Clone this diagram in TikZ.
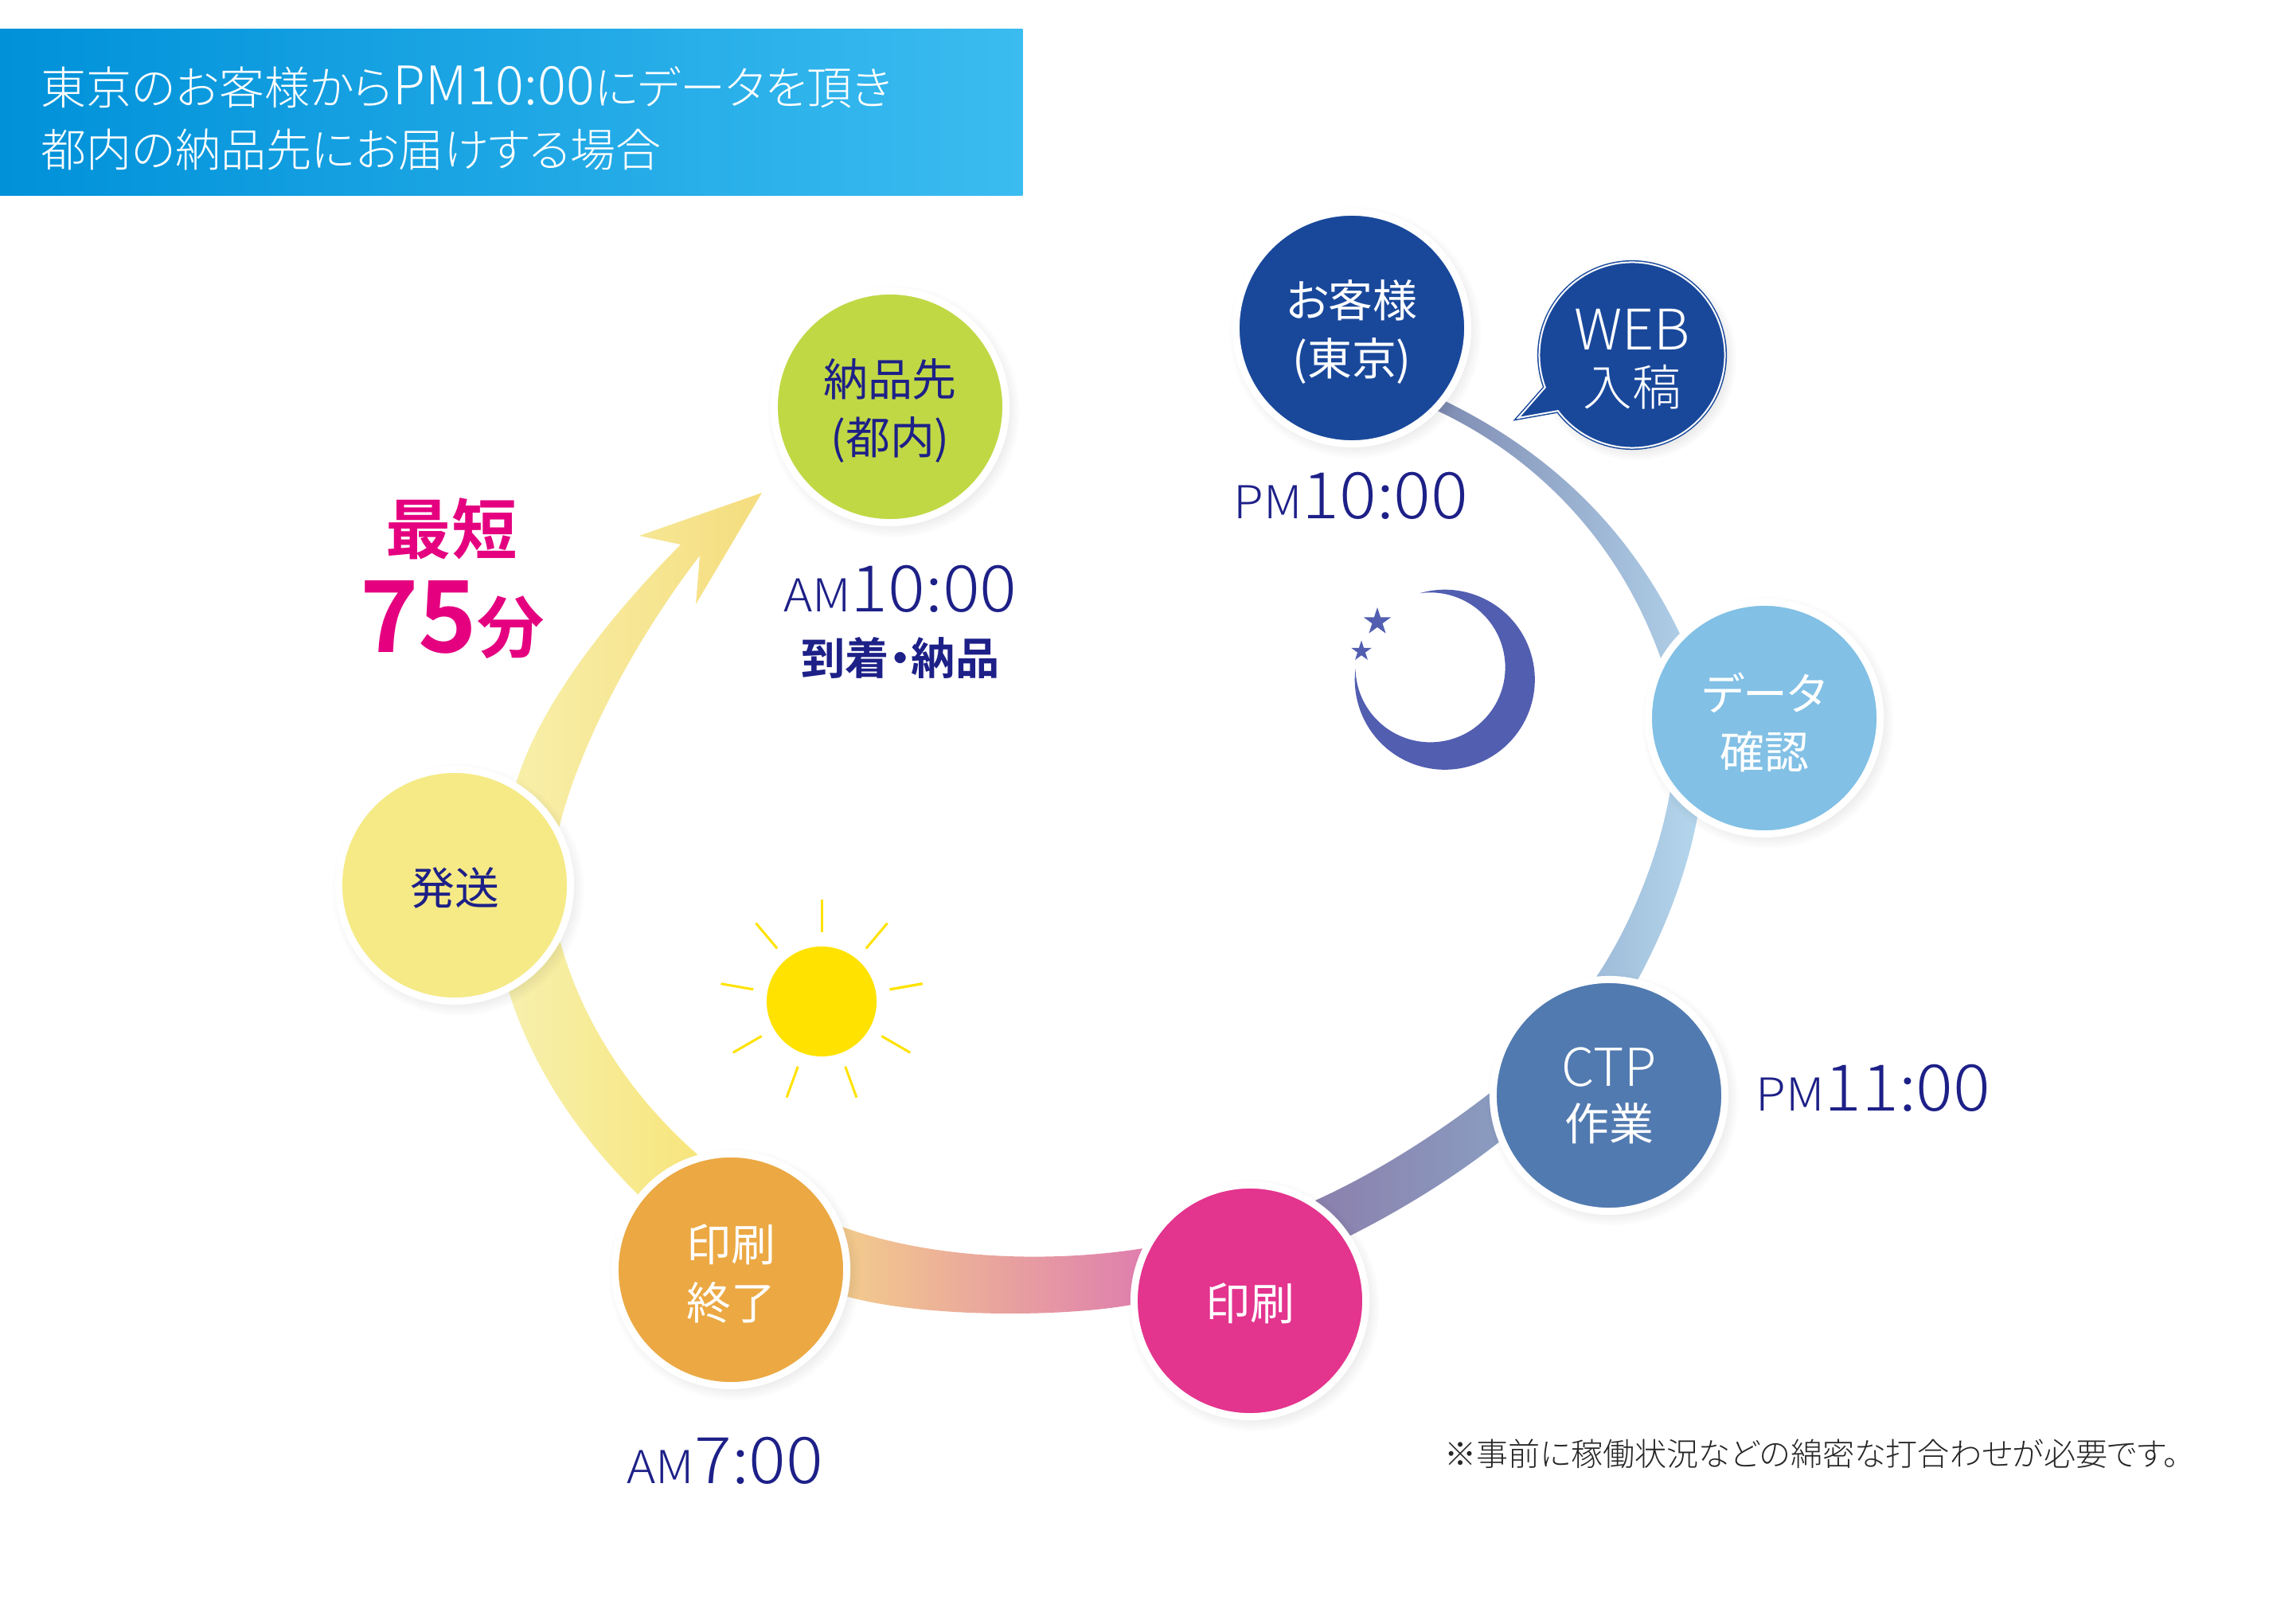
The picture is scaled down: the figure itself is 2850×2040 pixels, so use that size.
\documentclass[tikz,border=0pt]{standalone}
\usepackage{fontspec}
\setmainfont{Noto Sans CJK JP}[RawFeature={+palt},BoldFont={Noto Sans CJK JP Bold}]
\newfontfamily\jplight{Noto Sans CJK JP Light}[RawFeature={+palt}]
\newfontfamily\timefont{Noto Sans CJK JP Light}[FakeStretch=1.08]
\usetikzlibrary{positioning,calc,backgrounds,shadows,shapes.geometric}
\definecolor{navytext}{HTML}{1D2087}
\definecolor{custblue}{HTML}{19489B}
\definecolor{datablue}{HTML}{82C0E5}
\definecolor{ctpblue}{HTML}{517AB0}
\definecolor{printpink}{HTML}{E3348E}
\definecolor{doneorange}{HTML}{EBA843}
\definecolor{shipyellow}{HTML}{F5EA85}
\definecolor{destgreen}{HTML}{C1D845}
\definecolor{hotpink}{HTML}{E4007F}
\definecolor{moonblue}{HTML}{525EB0}
\definecolor{sunyellow}{HTML}{FFE200}
\definecolor{titlea}{HTML}{0091D9}
\definecolor{titleb}{HTML}{0AA0E6}
\definecolor{titlec}{HTML}{3BBCF0}
\definecolor{linka}{HTML}{7F8CB3}
\definecolor{linkb}{HTML}{AECDE6}
\definecolor{linkc}{HTML}{9FBCD9}
\definecolor{linkd}{HTML}{B4D6EC}
\definecolor{linke}{HTML}{8B80AD}
\definecolor{linkf}{HTML}{8A9CC0}
\definecolor{linkg}{HTML}{F3CB8C}
\definecolor{linkh}{HTML}{EBA0A3}
\definecolor{linki}{HTML}{DF7FAE}
\definecolor{linkj}{HTML}{F7F0AD}
\definecolor{linkk}{HTML}{F7E57C}
\definecolor{linkl}{HTML}{F8EFA8}
\definecolor{linkm}{HTML}{F5DD7F}
\newcommand{\jpsize}[2]{\fontsize{#1}{#2}\selectfont}
\newcommand{\dropgap}[1][16pt]{\rule{0pt}{#1}}
\newcommand{\timetag}[2]{{\timefont\jpsize{16.2}{20}#1}{\timefont\jpsize{23}{26}#2}}
\tikzset{
  softshadow/.style={circular drop shadow={shadow scale=1.09,shadow xshift=.04cm,shadow yshift=-.05cm,opacity=.1,fill=black}},
  stage/.style={circle,draw=white,line width=.09cm,minimum size=2.91cm,inner sep=0pt,align=center,softshadow,
    font=\jpsize{15.9}{20.8},text=white},
  timetext/.style={anchor=base,text=navytext,inner sep=0pt}
}
\begin{document}
\begin{tikzpicture}[x=.01cm,y=-.01cm]
\useasboundingbox (0,0) rectangle (2850,2040);
\node[rectangle,left color=titlea,middle color=titleb,right color=titlec,minimum width=12.84cm,minimum height=2.08cm,
  inner xsep=.52cm,inner ysep=0pt,text width=11.8cm,align=left,text=white,font=\jplight\jpsize{16.2}{22.2}] (title) at (642,141)
  {\dropgap[18pt]東京のお客様から{\jpsize{19}{22.2}PM10:00}にデータを頂き\\都内の納品先にお届けする場合};
\node[stage,fill=custblue] (cust) at (1698,412) {\dropgap お客様\\(東京)};
\node[stage,fill=datablue] (data) at (2216,902) {\dropgap[16.5pt]データ\\確認};
\node[stage,fill=ctpblue] (ctp) at (2021,1376) {{\jplight\jpsize{18.7}{20}CTP}\\[-1.5pt]作業};
\node[stage,fill=printpink] (print) at (1570,1634) {\dropgap[15pt]印刷};
\node[stage,fill=doneorange] (done) at (918,1595) {\dropgap 印刷\\終了};
\node[stage,fill=shipyellow,text=navytext] (ship) at (571,1112) {\dropgap[15.5pt]発送};
\node[stage,fill=destgreen,text=navytext] (dest) at (1118,511) {\dropgap 納品先\\(都内)};
\begin{scope}[on background layer]
\shade[left color=linka,right color=linkb] (cust.-38) .. controls (1930,560) and (2040,650) .. (data.135)
  -- (data.150) .. controls (2030,670) and (1920,570) .. (cust.-44) -- cycle;
\shade[left color=linkc,right color=linkd] (data.-124) .. controls (2118,1100) and (2090,1170) .. (ctp.76)
  -- (ctp.96) .. controls (2050,1160) and (2085,1070) .. (data.-142) -- cycle;
\shade[left color=linke,right color=linkf] (ctp.179) .. controls (1800,1428) and (1725,1475) .. (print.57)
  -- (print.33) .. controls (1760,1520) and (1825,1480) .. (ctp.-157) -- cycle;
\shade[left color=linkg,middle color=linkh,right color=linki] (print.154) .. controls (1330,1585) and (1180,1585) .. (done.21)
  -- (done.-13) .. controls (1160,1655) and (1330,1655) .. (print.182) -- cycle;
\shade[left color=linkj,right color=linkk] (done.106) .. controls (790,1375) and (730,1280) .. (ship.-28)
  -- (ship.-63) .. controls (670,1345) and (730,1430) .. (done.141) -- cycle;
\coordinate (neckl) at (855,684);
\coordinate (barbl) at (803,673);
\coordinate (tipa) at (957,619);
\coordinate (barbr) at (874,759);
\coordinate (neckr) at (879,698);
\shade[left color=linkl,right color=linkm] (ship.59) .. controls (680,880) and (770,770) .. (neckl)
  -- (barbl) -- (tipa) -- (barbr) -- (neckr) .. controls (800,800) and (728,935) .. (ship.29) -- cycle;
\end{scope}
\node[circle,fill=white,minimum size=2.33cm,inner sep=0pt,outer sep=0pt,softshadow] (webback) at (2050,446) {};
\coordinate (webtip) at (1907,525);
\draw[draw=custblue,line width=.015cm,double=white,double distance=.02cm,fill=custblue,miter limit=10]
  (webback.217) arc[start angle=217,delta angle=343.4,radius=1.165cm] -- (webtip) -- cycle;
\node[align=center,text=white,font=\jplight\jpsize{17.5}{21}] (web) at (webback) {{\dropgap[17.5pt]\jpsize{20}{21}WEB}\\[-1pt]入稿};
\node[timetext] (tcust) at (1697,652) {\timetag{PM}{10:00}};
\node[timetext] (tctp) at (2353,1395) {\timetag{PM}{11:00}};
\node[timetext] (tdone) at (911,1863) {\timetag{AM}{7:00}};
\node[timetext] (tdest) at (1131,769) {\timetag{AM}{10:00}};
\node[text=navytext,inner sep=0pt,font=\bfseries\jpsize{15.7}{18}] (arrive) at (1131,826) {到着・納品};
\node[text=hotpink,inner sep=0pt,font=\bfseries\jpsize{23.4}{26}] (short) at (567,664) {最短};
\node[anchor=base,text=hotpink,inner sep=0pt,font=\bfseries\jpsize{24}{26}] (mins) at (568,820) {{\jpsize{35.5}{36}75}分};
\node[circle,fill=sunyellow,minimum size=1.38cm,inner sep=0pt,outer sep=0pt] (sun) at (1032,1258) {};
\foreach \a in {10,50,...,370}
  \draw[sunyellow,line width=.03cm] ($(sun.center)!1.26!(sun.\a)$) -- ($(sun.center)!1.86!(sun.\a)$);
\node[circle,minimum size=2.26cm,inner sep=0pt,outer sep=0pt] (moon) at (1814,854) {};
\fill[moonblue] (moon.106) arc[start angle=106.4,end angle=-187,radius=1.13cm] arc[start angle=181,end angle=458,radius=.94cm] -- cycle;
\node[star,star points=5,star point ratio=2.618,fill=moonblue,minimum size=.36cm,inner sep=0pt] (bigstar) at (1730,781) {};
\node[star,star points=5,star point ratio=2.618,fill=moonblue,minimum size=.27cm,inner sep=0pt] (smallstar) at (1710,818) {};
\node[anchor=west,inner sep=0pt,text=black!85,font=\jplight\jpsize{11.4}{14}] (note) at (1814,1826) {※事前に稼働状況などの綿密な打合わせが必要です。};
\end{tikzpicture}
\end{document}
